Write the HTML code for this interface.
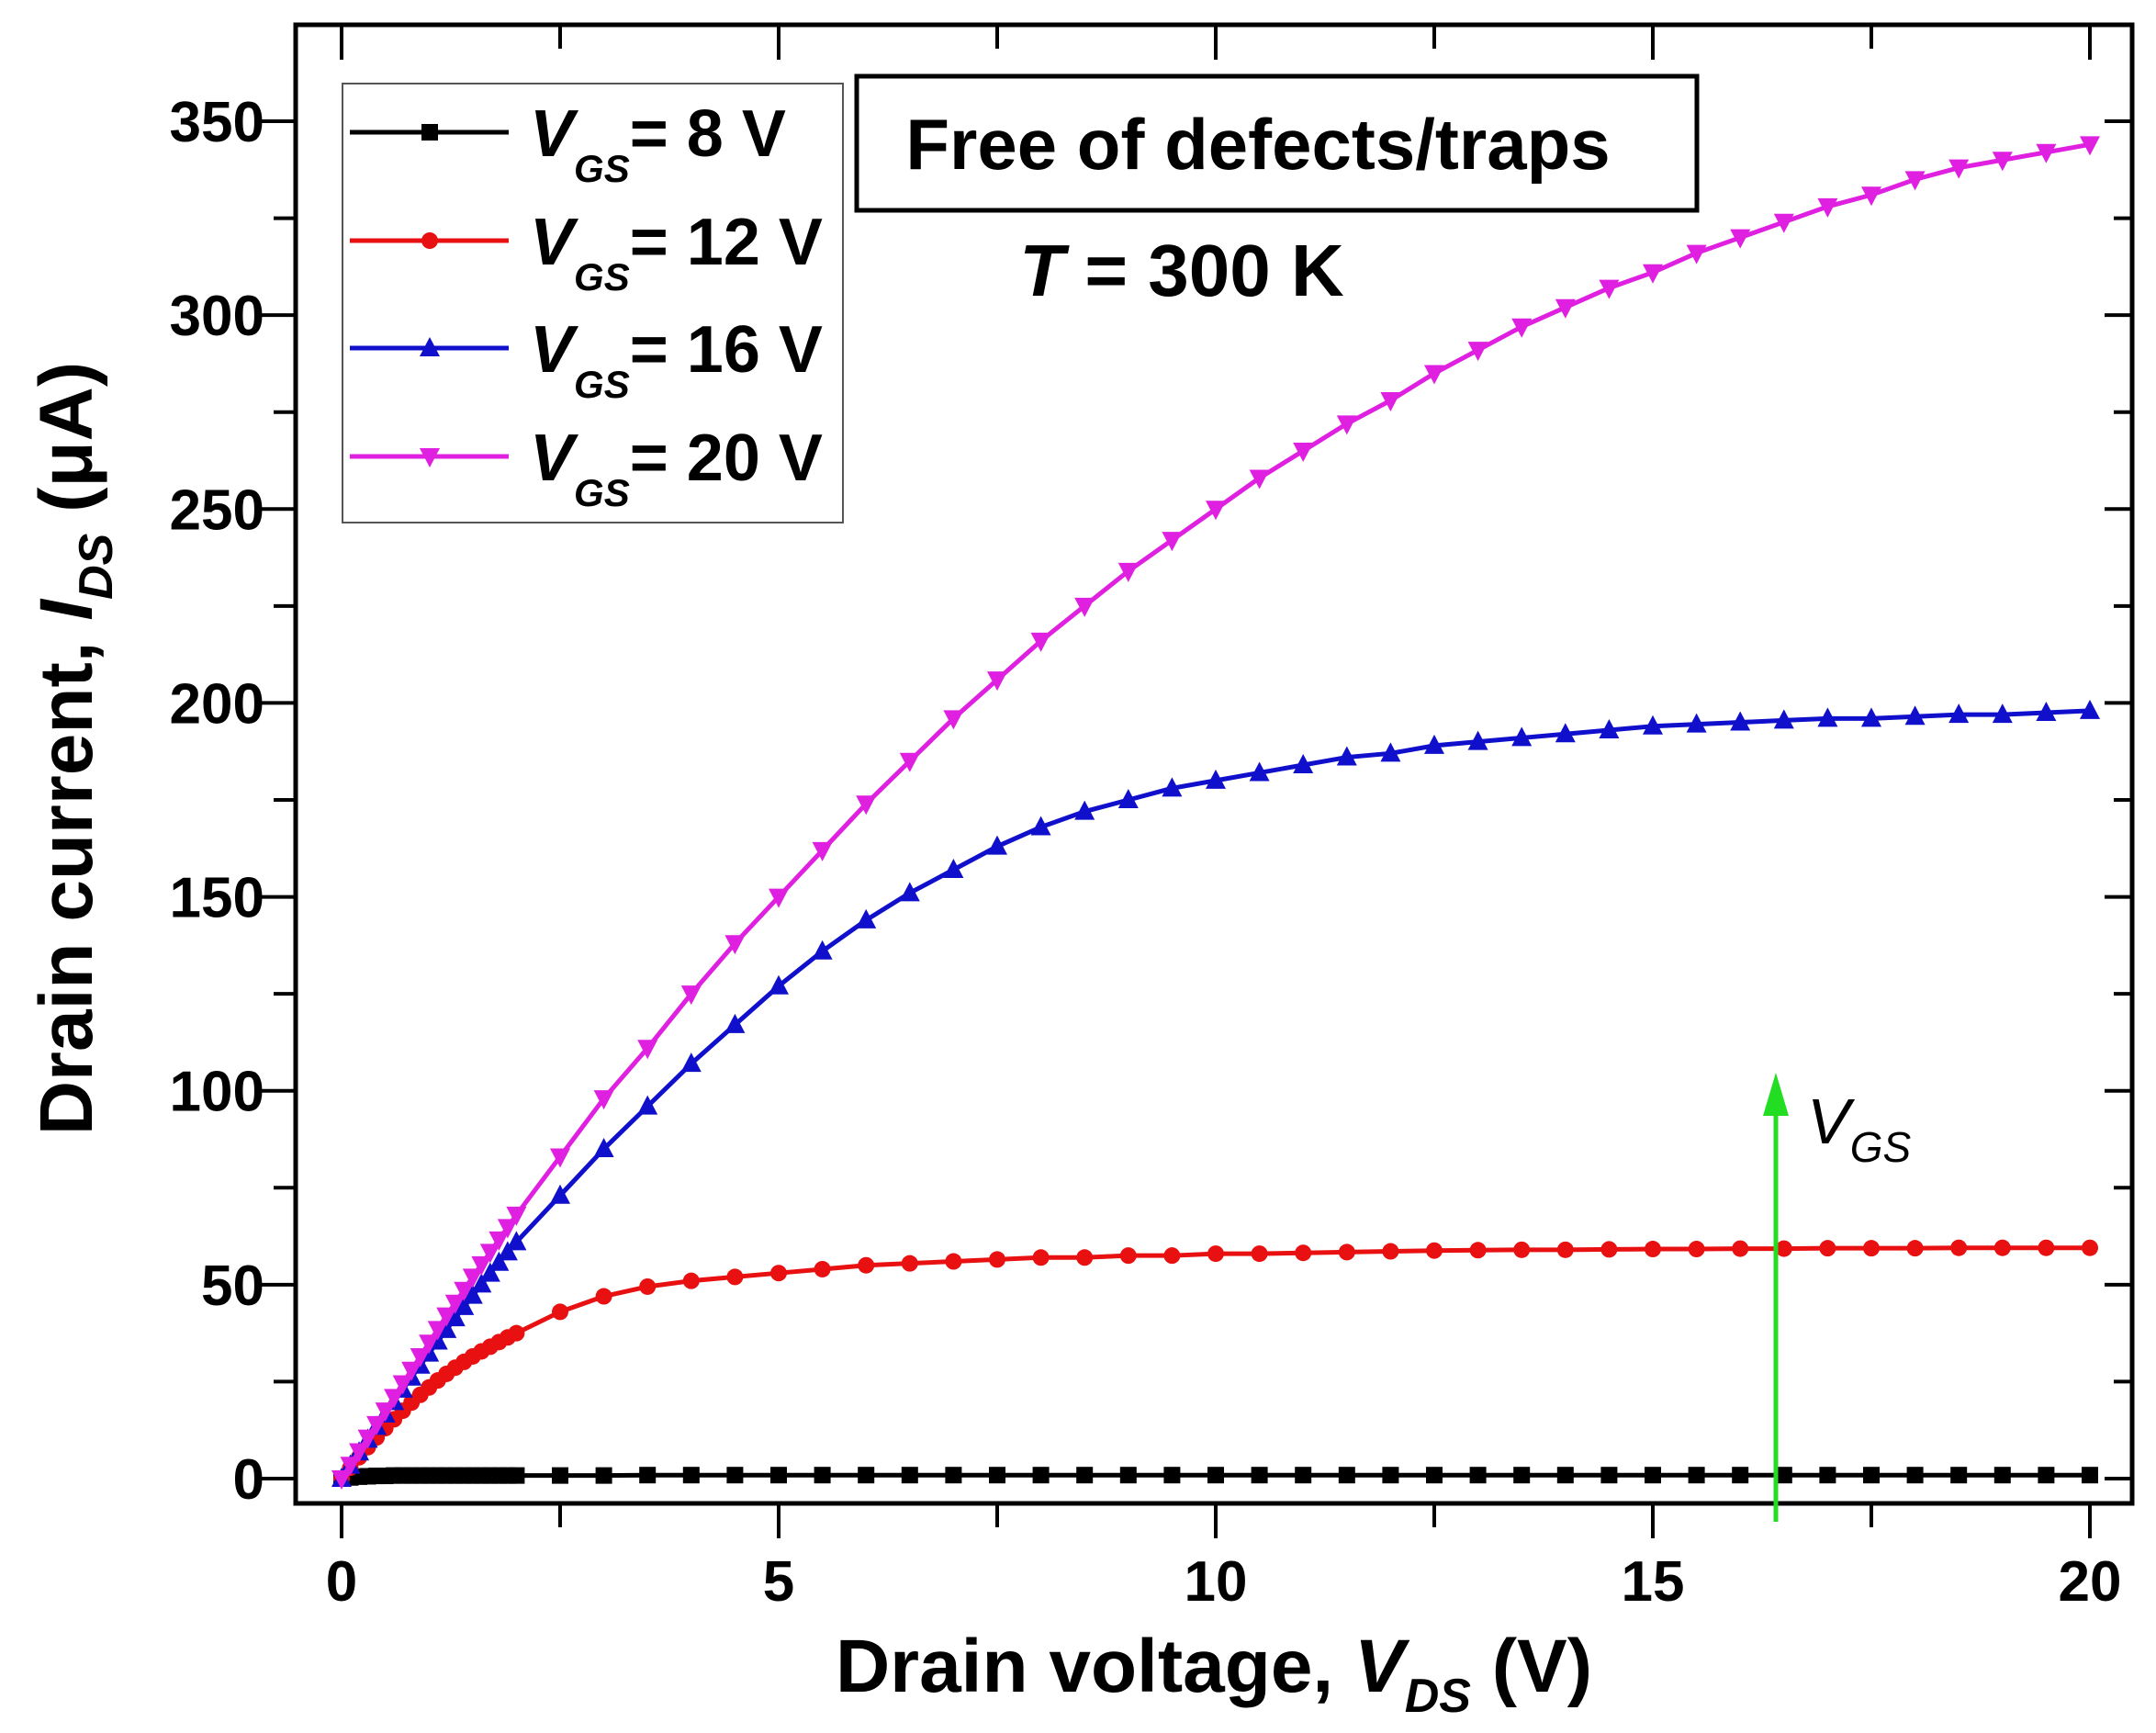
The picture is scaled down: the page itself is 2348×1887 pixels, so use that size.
<!DOCTYPE html>
<html><head><meta charset="utf-8"><style>
html,body{margin:0;padding:0;background:#fff;}
svg{display:block;font-family:"Liberation Sans",Arial,sans-serif;}
</style></head><body>
<svg id="chart" width="2348" height="1887" viewBox="0 0 2348 1887">
<rect x="0" y="0" width="2348" height="1887" fill="#fff"/>
<g id="axes"></g>
<g id="series"></g>
<rect x="373" y="91" width="545" height="478" fill="#fff" stroke="#555" stroke-width="2"/>
<g id="legend"></g>
<rect x="933" y="83" width="915" height="146" fill="#fff" stroke="#000" stroke-width="5"/>
<text x="1370" y="184" text-anchor="middle" font-size="78" font-weight="bold">Free of defects/traps</text>
<text x="1287" y="322" text-anchor="middle" font-size="80" font-weight="bold"><tspan font-style="italic">T</tspan> = 300 K</text>
<g>
<line x1="1934" y1="1657" x2="1934" y2="1200" stroke="#22dd22" stroke-width="5"/>
<polygon points="1920,1215 1934,1168 1948,1215" fill="#22dd22"/>
</g>
<text x="1968" y="1245" font-size="70" font-style="italic">V<tspan font-size="46" dy="20">GS</tspan></text>
<text x="1322" y="1842" text-anchor="middle" font-size="82" font-weight="bold">Drain voltage, <tspan font-style="italic">V</tspan><tspan font-style="italic" font-size="52" dy="22">DS</tspan><tspan dy="-22"> (V)</tspan></text>
<text transform="translate(100,815) rotate(-90)" text-anchor="middle" font-size="82" font-weight="bold">Drain current, <tspan font-style="italic">I</tspan><tspan font-style="italic" font-size="52" dy="22">DS</tspan><tspan dy="-22"> (μA)</tspan></text>
</svg>
<script>
const xDense = [0,0.1,0.2,0.3,0.4,0.5,0.6,0.7,0.8,0.9,1.0,1.1,1.2,1.3,1.4,1.5,1.6,1.7,1.8,1.9,2.0];
const xSparse = [2.5,3,3.5,4,4.5,5,5.5,6,6.5,7,7.5,8,8.5,9,9.5,10,10.5,11,11.5,12,12.5,13,13.5,14,14.5,15,15.5,16,16.5,17,17.5,18,18.5,19,19.5,20];
const vgs8 = [0,0.3,0.5,0.6,0.7,0.7,0.8,0.8,0.8,0.8,0.8,0.8,0.8,0.8,0.8,0.8,0.8,0.8,0.8,0.8,0.8,
 0.8,0.8,0.9,0.9,0.9,0.9,0.9,0.9,0.9,0.9,0.9,0.9,0.9,0.9,0.9,0.9,0.9,0.9,0.9,0.9,0.9,0.9,0.9,0.9,0.9,0.9,0.9,0.9,0.9,0.9,0.9,0.9,0.9,0.9,0.9,0.9];
const vgs12 = [0,2.8,5.5,8.1,10.6,13,15.3,17.5,19.6,21.6,23.5,25.3,27,28.6,30.1,31.5,32.8,34,35.2,36.4,37.5,
 43,47,49.5,51,52,53,54,55,55.5,56,56.5,57,57,57.5,57.5,58,58,58.2,58.4,58.6,58.8,58.9,59,59,59.1,59.2,59.2,59.3,59.3,59.4,59.4,59.4,59.5,59.5,59.5,59.5];
const vgs16 = [0,3.4,6.8,10.1,13.4,16.6,19.8,23,26.1,29.2,32.3,35.4,38.4,41.4,44.3,47.2,50.1,52.9,55.7,58.4,61,
 73,85,96,107,117,127,136,144,151,157,163,168,172,175,178,180,182,184,186,187,189,190,191,192,193,194,194.5,195,195.5,196,196,196.5,197,197,197.5,198];
const vgs20 = [0,3.5,7,10.5,14,17.5,21,24.5,28,31.5,35,38.5,42,45.3,48.6,52,55.2,58.4,61.6,64.8,68,
 83,98,111,125,138,150,162,174,185,196,206,216,225,234,242,250,258,265,272,278,285,291,297,302,307,311,316,320,324,328,331,335,338,340,342,344];
const xTicks = [0,5,10,15,20];
const yTicks = [0,50,100,150,200,250,300,350];
const legendLabels = ["= 8 V","= 12 V","= 16 V","= 20 V"];

const NS="http://www.w3.org/2000/svg";
const X0=372, X1=2276, Y0=1610, Y350=132;
const FL=322, FR=2322, FT=27, FB=1637;
function xs(v){return X0+(X1-X0)*v/20;}
function ys(v){return Y0-(Y0-Y350)*v/350;}
function mk(tag,attrs,parent){const e=document.createElementNS(NS,tag);for(const k in attrs)e.setAttribute(k,attrs[k]);parent.appendChild(e);return e;}
const axes=document.getElementById('axes'), ser=document.getElementById('series'), leg=document.getElementById('legend');

const frame=mk('rect',{x:FL,y:FT,width:FR-FL,height:FB-FT,fill:'none',stroke:'#000','stroke-width':5},axes);


for(let v=0;v<=20;v+=2.5){
  const major=v%5===0;
  const t=mk('line',{x1:xs(v),x2:xs(v),y1:FB,y2:FB+(major?38:26),stroke:'#000','stroke-width':4},axes);
  
  
  mk('line',{x1:xs(v),x2:xs(v),y1:FT,y2:FT+(major?38:26),stroke:'#000','stroke-width':4},axes);
}
xTicks.forEach(v=>{
  const t=mk('text',{x:xs(v),y:1743,'text-anchor':'middle','font-size':62,'font-weight':'bold'},axes);
  t.textContent=v;
  
  
});
for(let v=0;v<=375;v+=25){
  const y=ys(v); if(y<FT+5) continue;
  const major=v%50===0;
  const t=mk('line',{x1:FL-(major?38:24),x2:FL,y1:y,y2:y,stroke:'#000','stroke-width':4},axes);
  
  
  mk('line',{x1:FR-(major?30:20),x2:FR,y1:y,y2:y,stroke:'#000','stroke-width':4},axes);
}
yTicks.forEach(v=>{
  const t=mk('text',{x:288,y:ys(v)+22,'text-anchor':'end','font-size':62,'font-weight':'bold'},axes);
  t.textContent=v;
  
  
});

function marker(type,cx,cy,color,parent){
  const s=9;
  if(type==='square') return mk('rect',{x:cx-s,y:cy-s,width:2*s,height:2*s,fill:color},parent);
  if(type==='circle') return mk('circle',{cx:cx,cy:cy,r:s,fill:color},parent);
  if(type==='up') return mk('polygon',{points:`${cx-s-2},${cy+s} ${cx+s+2},${cy+s} ${cx},${cy-s-3}`,fill:color},parent);
  return mk('polygon',{points:`${cx-s-2},${cy-s} ${cx+s+2},${cy-s} ${cx},${cy+s+3}`,fill:color},parent);
}
const xAll=xDense.concat(xSparse);
const seriesDefs=[[vgs8,'#000','square','vgs-8v'],[vgs12,'#e81010','circle','vgs-12v'],[vgs16,'#1010cc','up','vgs-16v'],[vgs20,'#e020e0','down','vgs-20v']];
seriesDefs.forEach(([data,color,m,name])=>{
  const g=mk('g',{},ser);
  
  
  const pts=data.map((v,i)=>xs(xAll[i])+','+ys(v)).join(' ');
  const l=mk('polyline',{points:pts,fill:'none',stroke:color,'stroke-width':5},g);
  
  
  data.forEach((v,i)=>{
    const p=marker(m,xs(xAll[i]),ys(v),color,g);
    
    
  });
});
const legY=[144,262,379,497];
seriesDefs.forEach(([data,color,m,name],i)=>{
  const g=mk('g',{},leg);
  
  
  mk('line',{x1:381,x2:554,y1:legY[i],y2:legY[i],stroke:color,'stroke-width':5},g);
  marker(m,468,legY[i],color,g);
  const t=mk('text',{x:577,y:legY[i]+26,'font-size':72,'font-weight':'bold'},g);
  const a=mk('tspan',{'font-style':'italic'},t); a.textContent='V';
  const b=mk('tspan',{'font-style':'italic','font-size':42,dy:28},t); b.textContent='GS';
  const c=mk('tspan',{dy:-28},t); c.textContent=legendLabels[i];
});
</script>
</body></html>
